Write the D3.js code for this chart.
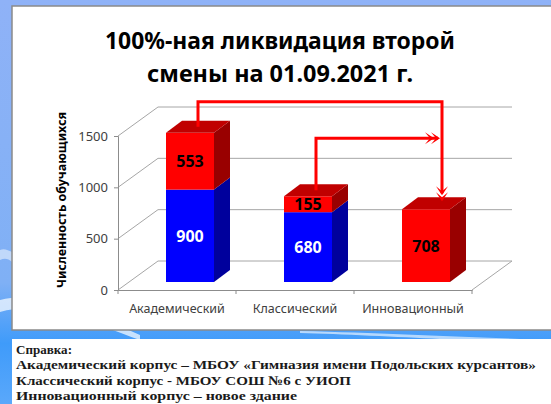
<!DOCTYPE html>
<html>
<head>
<meta charset="utf-8">
<script src="https://cdn.jsdelivr.net/npm/d3@7"></script>
<style>
  body { margin: 0; padding: 0; }
  svg { display: block; }
</style>
</head>
<body>
<div id="chart"></div>
<script>
// chart data
var categories = ["Академический", "Классический", "Инновационный"];
var blueValues = [900, 680, 0];
var redValues = [553, 155, 708];
var yTicks = [0, 500, 1000, 1500];
var titleLines = ["100%-ная ликвидация второй", "смены на 01.09.2021 г."];
var noteLines = [
  "Справка:",
  "Академический корпус – МБОУ «Гимназия имени Подольских курсантов»",
  "Классический корпус  - МБОУ СОШ №6 с УИОП",
  "Инновационный корпус – новое здание"
];

var width = 551, height = 404;
var svg = d3.select("#chart").append("svg")
  .attr("width", width)
  .attr("height", height);

// background
var defs = svg.append("defs");
var bg = defs.append("linearGradient").attr("id", "bg")
  .attr("x1", 0).attr("y1", 0).attr("x2", 0).attr("y2", 1);
bg.append("stop").attr("offset", "0%").attr("stop-color", "#8fb2f7");
bg.append("stop").attr("offset", "70%").attr("stop-color", "#7fb0f5");
bg.append("stop").attr("offset", "85%").attr("stop-color", "#3f9bfa");
bg.append("stop").attr("offset", "100%").attr("stop-color", "#5aa8fb");
svg.append("rect").attr("width", width).attr("height", height).attr("fill", "url(#bg)");

// white streaks of the slide background
svg.append("path")
  .attr("d", "M0,300 C40,290 80,310 140,335 L140,340 C80,318 40,300 0,312 Z")
  .attr("fill", "#ffffff").attr("opacity", 0.7);
svg.append("path")
  .attr("d", "M0,250 C4,248 8,250 12,252 L12,262 C8,258 4,258 0,260 Z")
  .attr("fill", "#ffffff").attr("opacity", 0.5);
svg.append("path")
  .attr("d", "M300,331 C380,333 440,336 520,339 L440,339 C400,337 340,334 300,333 Z")
  .attr("fill", "#ffffff").attr("opacity", 0.6);

// white panel of the chart
svg.append("rect")
  .attr("x", 12).attr("y", 6)
  .attr("width", 545).attr("height", 324)
  .attr("fill", "#ffffff")
  .attr("stroke", "#8a8a8a").attr("stroke-width", 1.5);

// note box
svg.append("rect")
  .attr("x", 12).attr("y", 339)
  .attr("width", 545).attr("height", 70)
  .attr("fill", "#ffffff");

// title
svg.selectAll("text.title")
  .data(titleLines)
  .enter().append("text")
  .attr("class", "title")
  .attr("x", 280)
  .attr("y", function (d, i) { return 49 + i * 33; })
  .attr("text-anchor", "middle")
  .attr("font-family", "'Noto Sans', 'Open Sans', sans-serif")
  .attr("font-weight", "bold")
  .attr("font-size", 24)
  .attr("fill", "#000000")
  .attr("textLength", function (d, i) { return i === 0 ? 350 : 266; })
  .attr("lengthAdjust", "spacingAndGlyphs")
  .text(function (d) { return d; });

// scales
var depth = { dx: 40, dy: -29 };      // back wall offset
var barDepth = { dx: 11, dy: -8 };    // bar front face offset from floor front
var barSide = { dx: 16, dy: -12 };    // bar thickness

var x = d3.scaleBand()
  .domain(categories)
  .range([118, 472])
  .padding(0);

var y = d3.scaleLinear()
  .domain([0, 1500])
  .range([290, 136]);

var g = svg.append("g");

// grid lines on the back wall and diagonals on the side wall
yTicks.forEach(function (t) {
  g.append("line")
    .attr("x1", x.range()[0]).attr("y1", y(t))
    .attr("x2", x.range()[0] + depth.dx).attr("y2", y(t) + depth.dy)
    .attr("stroke", "#a6a6a6").attr("stroke-width", 1);
  g.append("line")
    .attr("x1", x.range()[0] + depth.dx).attr("y1", y(t) + depth.dy)
    .attr("x2", x.range()[1] + depth.dx).attr("y2", y(t) + depth.dy)
    .attr("stroke", "#a6a6a6").attr("stroke-width", 1);
});
// right floor edge
g.append("line")
  .attr("x1", x.range()[1]).attr("y1", y(0))
  .attr("x2", x.range()[1] + depth.dx).attr("y2", y(0) + depth.dy)
  .attr("stroke", "#a6a6a6").attr("stroke-width", 1);

// y axis
var yAxis = d3.axisLeft(y).tickValues(yTicks).tickFormat(d3.format("d")).tickSize(4).tickPadding(6);
var yAxisG = g.append("g")
  .attr("transform", "translate(" + x.range()[0] + ",0)")
  .call(yAxis);
yAxisG.select(".domain").attr("stroke", "#8c8c8c");
yAxisG.selectAll(".tick line").attr("stroke", "#8c8c8c");
yAxisG.selectAll(".tick text")
  .attr("font-family", "'Noto Sans', sans-serif")
  .attr("font-size", 13)
  .attr("fill", "#404040");

// x axis
var xAxis = d3.axisBottom(x).tickSize(0).tickPadding(14);
var xAxisG = g.append("g")
  .attr("transform", "translate(0," + y(0) + ")")
  .call(xAxis);
xAxisG.select(".domain").attr("stroke", "#8c8c8c");
xAxisG.selectAll(".tick text")
  .attr("font-family", "'Noto Sans', sans-serif")
  .attr("font-size", 12.5)
  .attr("fill", "#404040");
// category separators
x.range().concat(categories.slice(1).map(function (c) { return x(c); })).forEach(function (px) {
  xAxisG.append("line")
    .attr("x1", px).attr("y1", 0)
    .attr("x2", px).attr("y2", 4)
    .attr("stroke", "#8c8c8c");
});

// y axis title
svg.append("text")
  .attr("transform", "translate(66,200) rotate(-90)")
  .attr("text-anchor", "middle")
  .attr("font-family", "'Noto Sans', sans-serif")
  .attr("font-weight", "bold")
  .attr("font-size", 12.5)
  .attr("textLength", 176)
  .attr("lengthAdjust", "spacingAndGlyphs")
  .text("Численность обучающихся");

// bar value scale sits on the bar depth plane
var yb = function (v) { return y(v) + barDepth.dy; };
var barW = 48;
var barX = function (c) { return x(c) + x.bandwidth() / 2 + 13 - barW / 2; };

// draw a 3D box segment
function box(x0, v0, v1, front, top, side) {
  var yTop = yb(v1), yBot = yb(v0);
  g.append("path")
    .attr("d", "M" + (x0 + barW) + "," + yBot + " L" + (x0 + barW + barSide.dx) + "," + (yBot + barSide.dy) +
      " L" + (x0 + barW + barSide.dx) + "," + (yTop + barSide.dy) + " L" + (x0 + barW) + "," + yTop + " Z")
    .attr("fill", side);
  g.append("rect")
    .attr("x", x0).attr("y", yTop)
    .attr("width", barW).attr("height", yBot - yTop)
    .attr("fill", front);
  if (top) {
    g.append("path")
      .attr("d", "M" + x0 + "," + yTop + " L" + (x0 + barSide.dx) + "," + (yTop + barSide.dy) +
        " L" + (x0 + barW + barSide.dx) + "," + (yTop + barSide.dy) + " L" + (x0 + barW) + "," + yTop + " Z")
      .attr("fill", top);
  }
}

categories.forEach(function (c, i) {
  var x0 = barX(c);
  var b = blueValues[i], r = redValues[i];
  if (b > 0) box(x0, 0, b, "#0000ff", r > 0 ? null : "#0000c0", "#00009c");
  if (r > 0) box(x0, b, b + r, "#ff0000", "#c00000", "#990000");

  if (b > 0) {
    g.append("text")
      .attr("x", x0 + barW / 2).attr("y", yb(b / 2) + 6)
      .attr("text-anchor", "middle")
      .attr("font-family", "'Noto Sans', sans-serif")
      .attr("font-weight", "bold").attr("font-size", 16)
      .attr("fill", "#ffffff")
      .text(b);
  }
  g.append("text")
    .attr("x", x0 + barW / 2).attr("y", yb(b + r / 2) + 6)
    .attr("text-anchor", "middle")
    .attr("font-family", "'Noto Sans', sans-serif")
    .attr("font-weight", "bold").attr("font-size", 16)
    .attr("fill", "#000000")
    .text(r);
});

// arrows showing transfer of second shift pupils
function topCenter(i) {
  return [barX(categories[i]) + barW / 2 + barSide.dx / 2, yb(blueValues[i] + redValues[i]) + barSide.dy / 2];
}
var a0 = topCenter(0), a1 = topCenter(1), a2 = topCenter(2);
var arrowX = a2[0] + 8;
var arrowG = svg.append("g").attr("fill", "none").attr("stroke", "#ff0000").attr("stroke-width", 3);
arrowG.append("path")
  .attr("d", "M" + a0[0] + "," + a0[1] + " V" + yb(1755) + " H" + arrowX + " V" + (a2[1] - 10));
arrowG.append("path")
  .attr("d", "M" + a1[0] + "," + a1[1] + " V" + yb(1400) + " H" + (arrowX - 4));

// double chevron heads
function chevronDown(cx, tip) {
  [0, 6].forEach(function (o) {
    svg.append("path")
      .attr("d", "M" + (cx - 6) + "," + (tip - 9 - o) + " L" + cx + "," + (tip - o) + " L" + (cx + 6) + "," + (tip - 9 - o) +
        " L" + cx + "," + (tip - 4 - o) + " Z")
      .attr("fill", "#ff0000");
  });
}
function chevronRight(tip, cy) {
  [0, 6].forEach(function (o) {
    svg.append("path")
      .attr("d", "M" + (tip - 9 - o) + "," + (cy - 6) + " L" + (tip - o) + "," + cy + " L" + (tip - 9 - o) + "," + (cy + 6) +
        " L" + (tip - 4 - o) + "," + cy + " Z")
      .attr("fill", "#ff0000");
  });
}
chevronDown(arrowX, a2[1] - 2);
chevronRight(arrowX - 2, yb(1400));

// note text
svg.selectAll("text.note")
  .data(noteLines)
  .enter().append("text")
  .attr("class", "note")
  .attr("x", 16)
  .attr("y", function (d, i) { return 354 + i * 15.3; })
  .attr("font-family", "'Liberation Serif', serif")
  .attr("font-weight", "bold")
  .attr("font-size", 13.5)
  .attr("fill", "#1a1a1a")
  .attr("textLength", function (d, i) { return [56, 520, 335, 281][i]; })
  .attr("lengthAdjust", "spacingAndGlyphs")
  .text(function (d) { return d; });
</script>
</body>
</html>
